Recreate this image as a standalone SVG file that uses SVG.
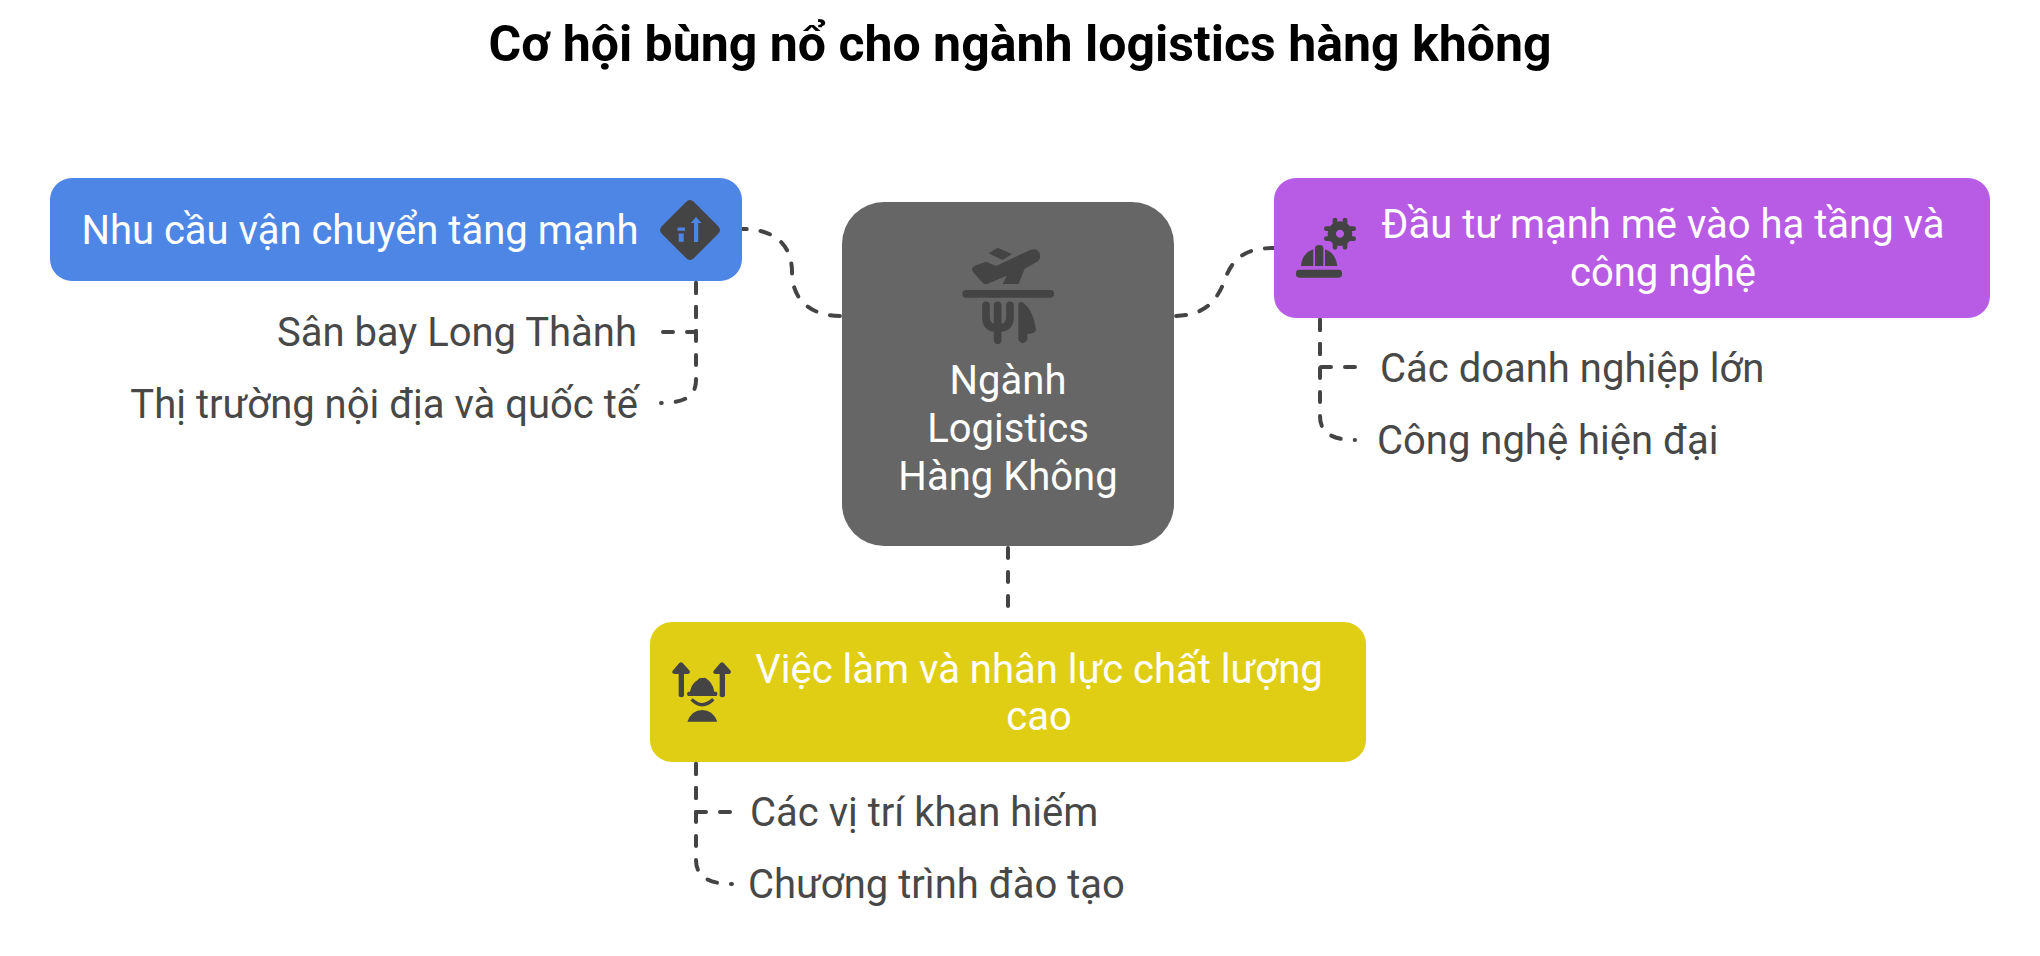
<svg xmlns="http://www.w3.org/2000/svg" width="2040" height="956" viewBox="0 0 2040 956">
<style>
text{font-family:Roboto,"Liberation Sans",sans-serif}
.t{font-size:40px;fill:#fff;text-anchor:middle}
.l{font-size:40px;fill:#484848}
.r{text-anchor:end}
.c{fill:none;stroke:#444;stroke-width:4;stroke-linecap:round;stroke-dasharray:10 14;stroke-dashoffset:-2}
.i{fill:#444}
</style>
<rect width="2040" height="956" fill="#fff"/>
<text x="1020" y="61" font-size="50" font-weight="700" text-anchor="middle" fill="#000">Cơ hội bùng nổ cho ngành logistics hàng không</text>
<g id="connectors">
<path class="c" d="M842 316C805 316 792 295 792 272C792 250 780 229 742 229"/>
<path class="c" d="M1174 316C1205 316 1217 300 1224 282C1232 258 1245 248 1274 248"/>
<path class="c" d="M1008 546V608"/>
<path class="c" d="M696 281V332H661"/>
<path class="c" d="M696 281V380C696 396 685 403 661 403"/>
<path class="c" d="M1320 318V367H1355"/>
<path class="c" d="M1320 318V416C1320 432 1331 440 1355 440"/>
<path class="c" d="M696 762V812H732"/>
<path class="c" d="M696 762V860C696 876 708 884 732 884"/>
</g>
<g id="node-center">
<rect x="842" y="202" width="332" height="344" rx="42" fill="#666"/>
<g class="i" transform="translate(950 230) scale(.3333)">
<path d="M66 118Q66 110 74 107L108 95L138 108L240 60Q262 52 270 72Q274 90 255 99L224 116L206 162H158L170 137L112 162Q104 164 98 158L72 130Q66 124 66 118Z"/>
<path d="M116 70L143 53L186 72L158 90Z"/>
<rect x="37" y="180" width="275" height="23" rx="11"/>
<path d="M108 226V262Q108 295 143 295Q180 295 180 262V226M143 226V331" fill="none" stroke="#444" stroke-width="23" stroke-linecap="round"/>
<path d="M205 225Q205 214 218 217Q250 240 258 298Q258 310 232 312V330Q218 350 205 330Z"/>
</g>
<text class="t" x="1008" y="394">Ngành</text>
<text class="t" x="1008" y="441.500">Logistics</text>
<text class="t" x="1008" y="490">Hàng Không</text>
</g>
<g id="node-demand">
<rect x="50" y="178" width="692" height="103" rx="22" fill="#4e86e6"/>
<text class="t" x="360" y="244">Nhu cầu vận chuyển tăng mạnh</text>
<path class="i" d="M686 202Q690 198 694 202L718 226Q722 230 718 234L694 258Q690 262 686 258L662 234Q658 230 662 226Z"/>
<path fill="#4e86e6" d="M696 217L701.500 223H698.200V242H694V223H690.700ZM677.500 227.500H685V230.700H677.500ZM678.700 233.500H683.700V241.700H678.700Z"/>
</g>
<g id="node-investment">
<rect x="1274" y="178" width="716" height="140" rx="22" fill="#b85be5"/>
<g class="i" transform="translate(1280 200) scale(.3333)">
<path d="M63 198C65 170 80 155 100 148V198Z"/>
<path d="M105 198V145Q105 135 118 135Q130 135 130 145V198Z"/>
<path d="M135 198V148C155 155 168 170 172 198Z"/>
<rect x="48" y="209" width="138" height="24" rx="10"/>
<path fill-rule="evenodd" d="M180 64A37 37 0 1 1 179.900 64ZM180 89A12 12 0 1 0 180.100 89Z"/>
<path d="M165 60V72M195 60V72M165 130V142M195 130V142M139 86H151M139 116H151M209 86H221M209 116H221" fill="none" stroke="#444" stroke-width="14" stroke-linecap="round"/>
</g>
<text class="t" x="1663" y="238">Đầu tư mạnh mẽ vào hạ tầng và</text>
<text class="t" x="1663" y="286">công nghệ</text>
</g>
<g id="node-jobs">
<rect x="650" y="622" width="716" height="140" rx="22" fill="#e0ce14"/>
<g class="i" transform="translate(660 650) scale(.3333)">
<path d="M56 138V72H43Q34 70 38 62L58 39Q63 35 68 39L89 62Q92 70 84 72H72V138Q64 146 56 138Z"/>
<path d="M179 138V72H166Q157 70 161 62L181 39Q186 35 191 39L212 62Q215 70 207 72H195V138Q187 146 179 138Z"/>
<path d="M90 125Q95 100 113 90L118 85L135 83Q158 95 163 125H170Q175 132 170 138H84Q78 132 84 125Z"/>
<path d="M95 148Q126 180 160 148" fill="none" stroke="#444" stroke-width="10"/>
<path d="M82 215Q95 180 127 180Q158 180 172 215Z"/>
</g>
<text class="t" x="1039" y="682.500">Việc làm và nhân lực chất lượng</text>
<text class="t" x="1039" y="729.500">cao</text>
</g>
<g id="label-long-thanh"><text class="l r" x="637" y="346">Sân bay Long Thành</text></g>
<g id="label-market"><text class="l r" x="638" y="418">Thị trường nội địa và quốc tế</text></g>
<g id="label-companies"><text class="l" x="1380" y="382">Các doanh nghiệp lớn</text></g>
<g id="label-tech"><text class="l" x="1377" y="454">Công nghệ hiện đại</text></g>
<g id="label-scarce"><text class="l" x="750" y="826">Các vị trí khan hiếm</text></g>
<g id="label-training"><text class="l" x="748" y="898">Chương trình đào tạo</text></g>
</svg>
